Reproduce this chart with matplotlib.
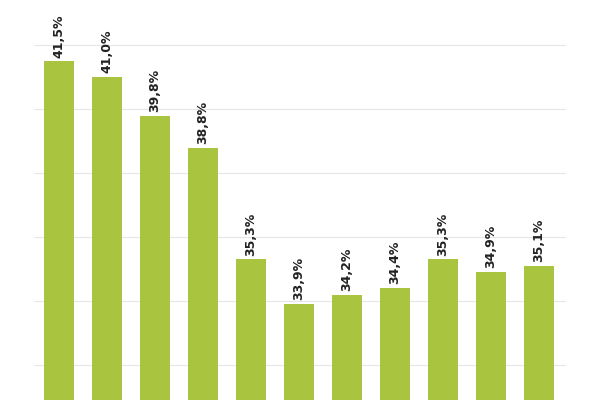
import matplotlib
matplotlib.use("Agg")
import matplotlib.pyplot as plt

values = [41.5, 41.0, 39.8, 38.8, 35.3, 33.9, 34.2, 34.4, 35.3, 34.9, 35.1]
labels = [f"{v:.1f}%".replace(".", ",") for v in values]
grid_vals = [32, 34, 36, 38, 40, 42]

fig = plt.figure(figsize=(6, 4), dpi=100)
ax = fig.add_axes([0, 0, 1, 1])
ax.set_xlim(-59/48, 541/48)
ax.set_ylim(30.9, 43.42)
for g in grid_vals:
    ax.axhline(g, xmin=35/600, xmax=565/600, color="#e6e6e6", lw=0.8, zorder=0)
x = list(range(len(values)))
ax.bar(x, values, width=0.63, color="#a9c43f", zorder=2)
for xi, v, l in zip(x, values, labels):
    ax.text(xi, v + 0.12, l, rotation=90, ha="center", va="bottom",
            fontsize=9, color="#222222", fontweight="semibold")
ax.axis("off")
fig.savefig("out.png", dpi=100)
